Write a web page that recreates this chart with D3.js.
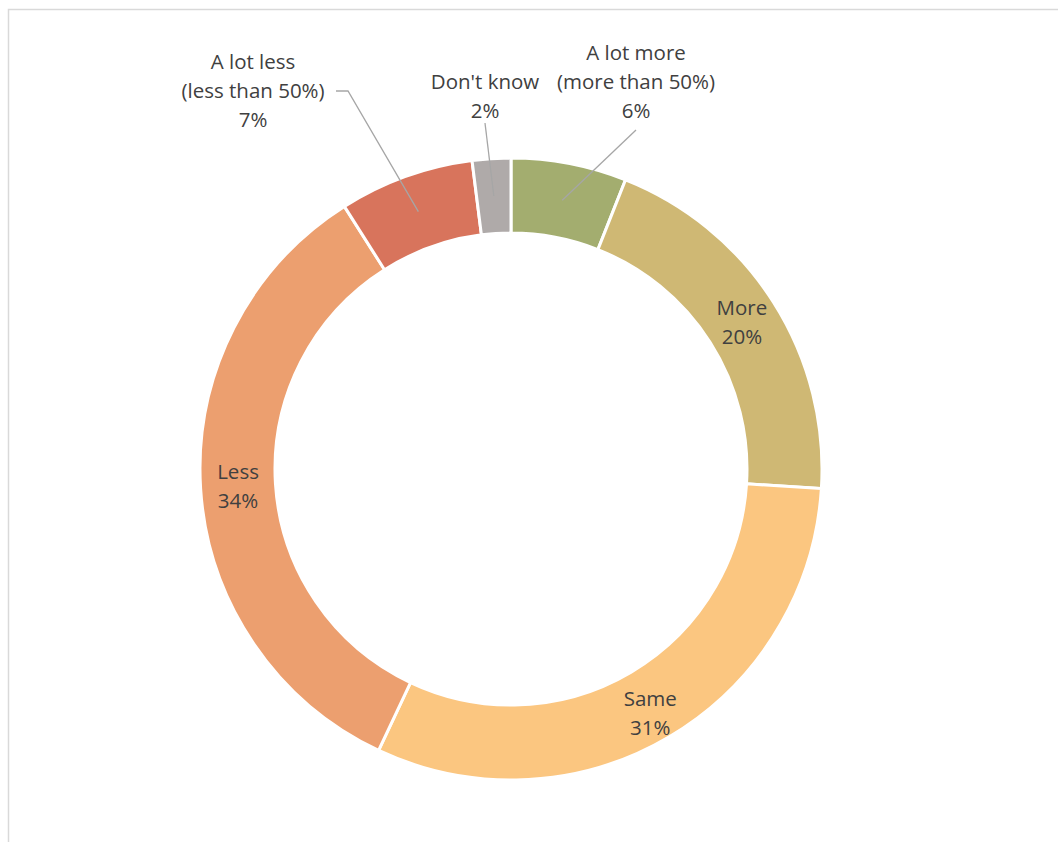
<!DOCTYPE html>
<html lang="en">
<head>
<meta charset="UTF-8">
<title>donut</title>
<style>
  body { margin: 0; background: #fff; }
  text { font-family: "Open Sans", Lato, sans-serif; fill: #404040; }
</style>
</head>
<body>
<svg id="chart"></svg>
<script src="https://d3js.org/d3.v7.min.js"></script>
<script>
  const categories = ['A lot more\n(more than 50%)', 'More', 'Same', 'Less', 'A lot less\n(less than 50%)', "Don't know"]
  const values = [6, 20, 31, 34, 7, 2]
  const colors = ['#A3AD6F', '#CFB874', '#FBC680', '#EC9F6F', '#D8745C', '#AFAAA9']

  // label spots for the slices that are labelled outside the ring (dx, dy from centre)
  const outside = {
    0: { x: 125, y: -416, line: [[125, -339]] },
    4: { x: -258, y: -407, line: [[-163, -378], [-175, -378]] },
    5: { x: -26, y: -387, line: [[-26, -346]] }
  }

  function render() {
    const width = 1058, height = 842
    const cx = 511, cy = 469
    const rOuter = 311, rInner = 236

    const svg = d3.select('#chart').attr('width', width).attr('height', height)

    // chart frame
    svg.append('rect')
      .attr('x', 8.5).attr('y', 9.5)
      .attr('width', width).attr('height', height)
      .attr('fill', 'none').attr('stroke', '#d9d9d9').attr('stroke-width', 1.5)

    const g = svg.append('g').attr('transform', `translate(${cx},${cy})`)

    const pie = d3.pie().sort(null).value(d => d)
    const arcs = pie(values)
    const arc = d3.arc().innerRadius(rInner).outerRadius(rOuter)

    g.selectAll('path.slice')
      .data(arcs)
      .join('path')
      .attr('class', 'slice')
      .attr('d', arc)
      .attr('fill', (d, i) => colors[i])
      .attr('stroke', '#fff')
      .attr('stroke-width', 3)

    const lineH = 29

    arcs.forEach((d, i) => {
      const c = arc.centroid(d)
      const lines = categories[i].split('\n').concat([values[i] + '%'])
      let lx, ly
      if (outside[i]) {
        const o = outside[i]
        // leader line from the centroid to the label
        const pts = [c].concat(o.line)
        g.append('path')
          .attr('d', d3.line()(pts))
          .attr('fill', 'none')
          .attr('stroke', '#a6a6a6')
          .attr('stroke-width', 1.3)
        lx = o.x
        ly = o.y
      } else {
        lx = c[0]
        ly = c[1] - (lines.length - 1) * lineH / 2
        if (i === 2) ly += 9
      }
      const t = g.append('text')
        .attr('text-anchor', 'middle')
        .attr('font-size', 20.5)
      lines.forEach((s, k) => {
        t.append('tspan')
          .attr('x', lx)
          .attr('y', ly + k * lineH)
          .attr('dy', '0.35em')
          .text(s)
      })
    })
  }

  render()
</script>
</body>
</html>
